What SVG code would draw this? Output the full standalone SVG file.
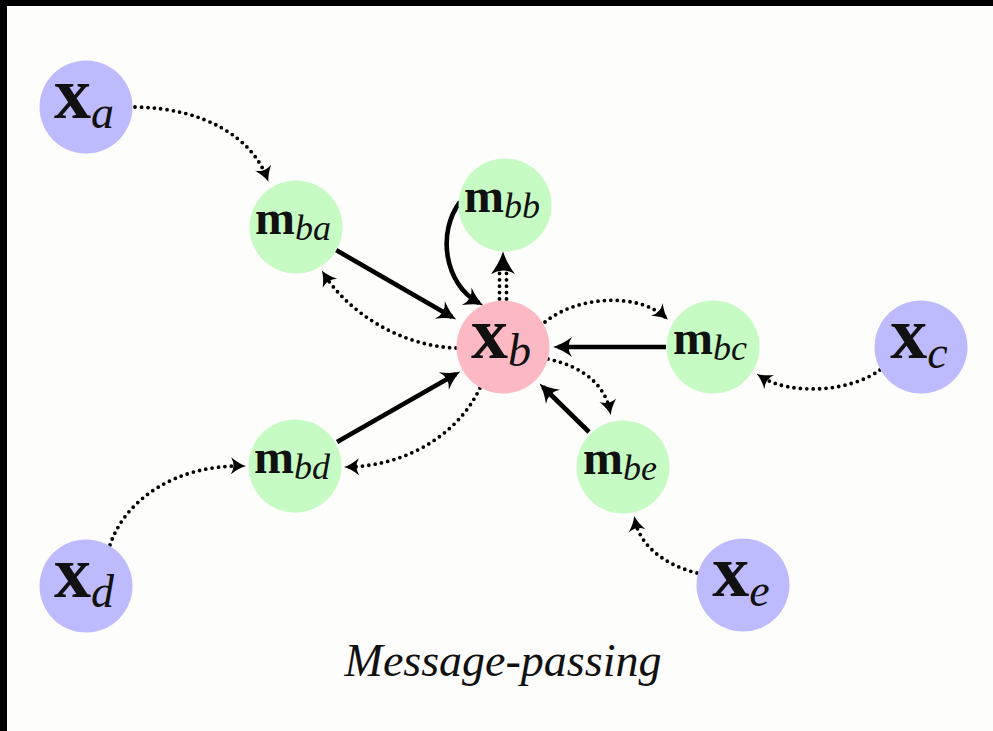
<svg xmlns="http://www.w3.org/2000/svg" width="993" height="731" viewBox="0 0 993 731">
<defs>
<style>
.bg{fill:#fdfdfb}
.bar{fill:#000}
.blue{fill:#bdbbfd}
.green{fill:#c7fbc4}
.pink{fill:#fcb9c3}
.lbl{font-family:"Liberation Serif","Times New Roman",serif;fill:#111;text-anchor:middle}
.bx{font-weight:bold;font-size:74px}
.bm{font-weight:bold;font-size:48px}
.sx{font-style:italic;font-size:46px}
.sm{font-style:italic;font-size:36px}
.solid{fill:none;stroke:#000;stroke-width:4.6}
.dot{fill:none;stroke:#000;stroke-width:3.8;stroke-linecap:round;stroke-dasharray:0 6.4}
.title{font-family:"Liberation Serif","Times New Roman",serif;font-style:italic;font-size:46px;fill:#111;text-anchor:middle}
</style>
<marker id="hs" markerUnits="userSpaceOnUse" orient="auto" refX="0" refY="0" markerWidth="1" markerHeight="1" overflow="visible">
<path d="M5,0 Q-4,-2.5 -14,-10 Q-7,0 -14,10 Q-4,2.5 5,0Z" fill="#000"/>
</marker>
<marker id="hd" markerUnits="userSpaceOnUse" orient="auto" refX="0" refY="0" markerWidth="1" markerHeight="1" overflow="visible">
<path d="M4,0 Q-3,-2 -11,-8.5 Q-6,0 -11,8.5 Q-3,2 4,0Z" fill="#000"/>
</marker>
</defs>
<rect class="bg" x="0" y="0" width="993" height="731"/>
<rect class="bar" x="0" y="0" width="993" height="6"/>
<rect class="bar" x="0" y="0" width="7" height="731"/>

<g id="connectors">
<path class="dot" d="M135,107 C205,108 252,138 267,178" marker-end="url(#hd)"/>
<path class="solid" d="M336,250 L452,317" marker-end="url(#hs)"/>
<path class="dot" d="M456,348 C400,346 348,312 324,274" marker-end="url(#hd)"/>
<path class="solid" d="M460,202 C437,232 444,284 479,303" marker-end="url(#hs)"/>
<path class="dot" d="M499.5,299 L499.5,271"/>
<path class="dot" d="M506.5,299 L506.5,271"/>
<path d="M503,251 Q500,262 491,274 Q503,267 515,274 Q506,262 503,251Z" fill="#000"/>
<path class="dot" d="M545,322 C580,294 640,294 665,317" marker-end="url(#hd)"/>
<path class="solid" d="M666,347 L558,347" marker-end="url(#hs)"/>
<path class="dot" d="M880,370 C850,392 790,396 760,376" marker-end="url(#hd)"/>
<path class="dot" d="M548,359 C585,367 605,386 610,411" marker-end="url(#hd)"/>
<path class="solid" d="M589,432 L543,387" marker-end="url(#hs)"/>
<path class="dot" d="M697,573 C665,565 640,546 635,520" marker-end="url(#hd)"/>
<path class="solid" d="M337,442 L456,374" marker-end="url(#hs)"/>
<path class="dot" d="M480,388 C455,440 400,466 348,467" marker-end="url(#hd)"/>
<path class="dot" d="M110,545 C125,500 175,465 242,466" marker-end="url(#hd)"/>
</g>

<g id="xa"><circle class="blue" cx="86" cy="107" r="46.5"/><text class="lbl" x="84" y="118"><tspan class="bx">x</tspan><tspan class="sx" dy="10">a</tspan></text></g>
<g id="xc"><circle class="blue" cx="921" cy="347" r="46.5"/><text class="lbl" x="919" y="358"><tspan class="bx">x</tspan><tspan class="sx" dy="10">c</tspan></text></g>
<g id="xd"><circle class="blue" cx="86" cy="586" r="46.5"/><text class="lbl" x="84" y="597"><tspan class="bx">x</tspan><tspan class="sx" dy="10">d</tspan></text></g>
<g id="xe"><circle class="blue" cx="743" cy="585" r="46.5"/><text class="lbl" x="741" y="596"><tspan class="bx">x</tspan><tspan class="sx" dy="10">e</tspan></text></g>
<g id="xb"><circle class="pink" cx="503" cy="347" r="46.5"/><text class="lbl" x="501" y="358"><tspan class="bx">x</tspan><tspan class="sx" dy="8">b</tspan></text></g>
<g id="mba"><circle class="green" cx="296" cy="227" r="46.5"/><text class="lbl" x="293" y="234"><tspan class="bm">m</tspan><tspan class="sm" dy="6">ba</tspan></text></g>
<g id="mbb"><circle class="green" cx="505" cy="205" r="46.5"/><text class="lbl" x="502" y="212"><tspan class="bm">m</tspan><tspan class="sm" dy="6">bb</tspan></text></g>
<g id="mbc"><circle class="green" cx="713" cy="347" r="46.5"/><text class="lbl" x="710" y="354"><tspan class="bm">m</tspan><tspan class="sm" dy="6">bc</tspan></text></g>
<g id="mbd"><circle class="green" cx="295" cy="466" r="46.5"/><text class="lbl" x="292" y="473"><tspan class="bm">m</tspan><tspan class="sm" dy="6">bd</tspan></text></g>
<g id="mbe"><circle class="green" cx="623" cy="467" r="46.5"/><text class="lbl" x="620" y="474"><tspan class="bm">m</tspan><tspan class="sm" dy="6">be</tspan></text></g>

<text class="title" x="503" y="676">Message-passing</text>
</svg>
